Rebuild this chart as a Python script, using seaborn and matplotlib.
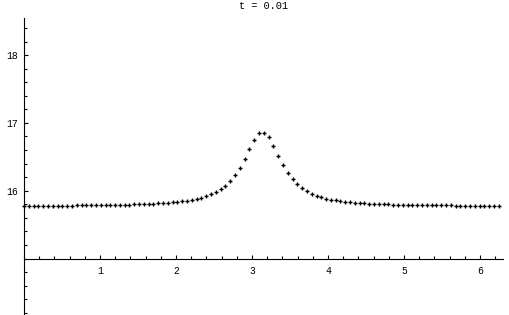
import numpy as np
import pandas as pd
import matplotlib
matplotlib.use("Agg")
import matplotlib.pyplot as plt
from matplotlib.ticker import MultipleLocator, FixedLocator
import seaborn as sns

title_text = "t = 0.01"
x_step = 0.0631          # spacing of the sample grid
n_points = 100
values = [
    15.774, 15.774, 15.774, 15.774, 15.774, 15.774, 15.774, 15.774, 15.774, 15.774,
    15.774, 15.789, 15.789, 15.789, 15.789, 15.789, 15.789, 15.789, 15.789, 15.789,
    15.789, 15.789, 15.789, 15.804, 15.804, 15.804, 15.804, 15.804, 15.814, 15.814,
    15.814, 15.829, 15.838, 15.848, 15.848, 15.858, 15.873, 15.888, 15.917, 15.947,
    15.981, 16.025, 16.065, 16.139, 16.232, 16.330, 16.463, 16.611, 16.743, 16.847,
    16.847, 16.788, 16.655, 16.512, 16.379, 16.257, 16.173, 16.099, 16.040, 15.996,
    15.951, 15.922, 15.903, 15.882, 15.867, 15.862, 15.848, 15.829, 15.829, 15.814,
    15.814, 15.814, 15.804, 15.804, 15.804, 15.804, 15.804, 15.789, 15.789, 15.789,
    15.789, 15.789, 15.789, 15.789, 15.789, 15.789, 15.789, 15.789, 15.789, 15.789,
    15.774, 15.774, 15.774, 15.774, 15.774, 15.774, 15.774, 15.774, 15.774, 15.774,
]
x_major_ticks = [1, 2, 3, 4, 5, 6]
x_tick_labels = ["1", "2", "3", "4", "5", "6"]
y_major_ticks = [16, 17, 18]
y_tick_labels = ["16", "17", "18"]

xs = np.arange(n_points) * x_step
df = pd.DataFrame({"x": xs, "u": values})

sns.set_style("white")
plt.rcParams["font.family"] = ["Liberation Mono", "DejaVu Sans Mono"]

fig = plt.figure(figsize=(5.10, 3.15), dpi=100)
ax = fig.add_axes([24 / 510, 0.0, (503 - 24) / 510, (315 - 18) / 315])
ax.set_facecolor("white")

sns.scatterplot(data=df, x="x", y="u", ax=ax, marker="+", color="black",
                s=12, linewidth=1.0, legend=False, clip_on=False)

ax.set_xlim(0, 6.303)
ax.set_ylim(14.167, 18.547)

for side in ["top", "right"]:
    ax.spines[side].set_visible(False)
ax.spines["left"].set_position(("data", 0))
ax.spines["bottom"].set_position(("data", 15))
for side in ["left", "bottom"]:
    ax.spines[side].set_linewidth(0.8)
    ax.spines[side].set_color("black")

ax.xaxis.set_major_locator(FixedLocator(x_major_ticks))
ax.set_xticklabels(x_tick_labels)
ax.xaxis.set_minor_locator(MultipleLocator(0.2))
ax.yaxis.set_major_locator(FixedLocator(y_major_ticks))
ax.set_yticklabels(y_tick_labels)
ax.yaxis.set_minor_locator(MultipleLocator(0.2))

ax.tick_params(axis="both", which="major", direction="in", length=3.2,
               width=0.8, color="black", labelsize=7.0, labelcolor="black")
ax.tick_params(axis="both", which="minor", direction="in", length=2.2,
               width=0.8, color="black")
ax.tick_params(axis="x", which="major", pad=5.5)
ax.tick_params(axis="y", which="major", pad=4.5)
ax.tick_params(left=True, bottom=True, which="both")

ax.set_xlabel("")
ax.set_ylabel("")
fig.text((24 + 503) / 2 / 510, 1 - 6 / 315, title_text, ha="center", va="center",
         fontsize=7.4, color="black")

fig.savefig("out.png", dpi=100, facecolor="white")
